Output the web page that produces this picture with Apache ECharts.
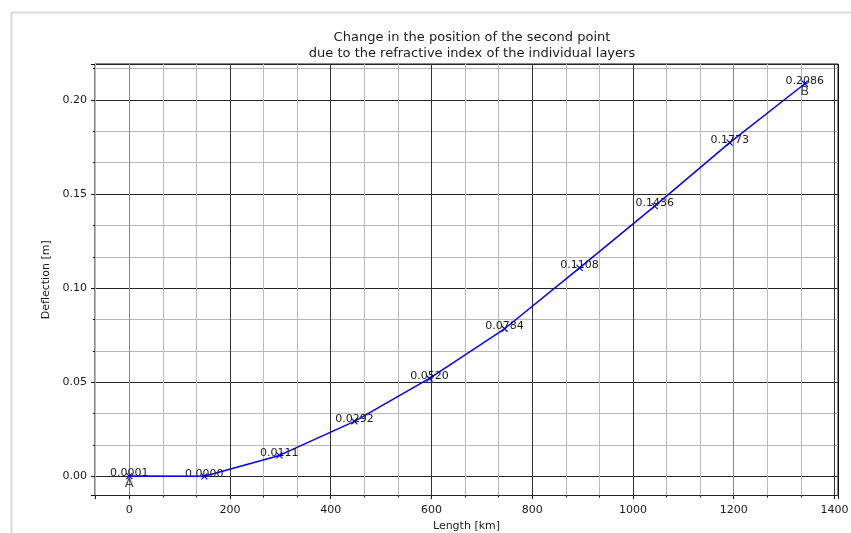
<!DOCTYPE html>
<html>
<head>
<meta charset="utf-8">
<script src="https://cdn.jsdelivr.net/npm/echarts@6/dist/echarts.min.js"></script>
<style>
html,body{margin:0;padding:0;background:#fff;}
#chart{width:851px;height:533px;}
</style>
</head>
<body>
<div id="chart"></div>
<script>
// ---- data ----
const titleLines = ['Change in the position of the second point', 'due to the refractive index of the individual layers'];
const xName = 'Length [km]';
const yName = 'Deflection [m]';
const lengthKm = [0, 149, 298, 447, 596, 745, 894, 1043, 1192, 1341];
const deflection = [0.0001, 0.0000, 0.0111, 0.0292, 0.0520, 0.0784, 0.1108, 0.1436, 0.1773, 0.2086];
const endNames = ['A', 'B'];
const xRange = [-68, 1407];
const yRange = [-0.0102, 0.2191];
const xMajorStep = 200;
const yMajorStep = 0.05;

const FONT = 'DejaVu Sans';
const TXT = '#1a1a1a';

const mainData = lengthKm.map((x, i) => [x, deflection[i]]);
const last = lengthKm.length - 1;
const endData = [
  {name: endNames[0], value: [lengthKm[0], deflection[0]]},
  {name: endNames[1], value: [lengthKm[last], deflection[last]]}
];

const chart = echarts.init(document.getElementById('chart'), null, {renderer: 'canvas'});
chart.setOption({
  animation: false,
  backgroundColor: '#fff',
  graphic: [{
    type: 'rect', left: 9, top: 10, silent: true, z: -10,
    shape: {width: 900, height: 600},
    style: {fill: 'none', stroke: '#d9d9d9', lineWidth: 2}
  }],
  title: {
    text: titleLines.join('\n'),
    left: 467, top: 25, textAlign: 'center',
    textStyle: {fontFamily: FONT, fontSize: 13, fontWeight: 'normal', color: TXT, lineHeight: 16}
  },
  grid: {
    left: 95, top: 64, right: 13, bottom: 37.5,
    containLabel: false, outerBoundsMode: 'none',
    show: true, borderColor: '#111', borderWidth: 1, backgroundColor: 'transparent'
  },
  xAxis: {
    type: 'value',
    min: xRange[0], max: xRange[1],
    minInterval: xMajorStep, maxInterval: xMajorStep,
    name: xName, nameLocation: 'middle', nameGap: 22,
    nameTextStyle: {fontFamily: FONT, fontSize: 11, color: TXT},
    axisLine: {show: false, onZero: false},
    axisTick: {show: true, length: 3.5, inside: false, lineStyle: {color: '#111'}},
    minorTick: {show: true, splitNumber: 3, length: 2, lineStyle: {color: '#111'}},
    axisLabel: {
      fontFamily: FONT, fontSize: 11, color: TXT, margin: 9,
      showMinLabel: false, showMaxLabel: false,
      formatter: v => (Math.abs(v / xMajorStep - Math.round(v / xMajorStep)) < 1e-6 ? String(Math.round(v)) : '')
    },
    splitLine: {show: true, lineStyle: {color: ['#111', '#888', '#333', '#333', '#333', '#333', '#333', '#888', '#333', '#111'], width: 1}},
    minorSplitLine: {show: true, lineStyle: {color: '#b8b8b8', width: 1}}
  },
  yAxis: {
    type: 'value',
    min: yRange[0], max: yRange[1],
    minInterval: yMajorStep, maxInterval: yMajorStep,
    name: yName, nameLocation: 'middle', nameGap: 37,
    nameTextStyle: {fontFamily: FONT, fontSize: 11, color: TXT},
    axisLine: {show: false, onZero: false},
    axisTick: {show: true, length: 4, lineStyle: {color: '#111'}},
    minorTick: {show: true, splitNumber: 3, length: 2, lineStyle: {color: '#111'}},
    axisLabel: {
      fontFamily: FONT, fontSize: 11, color: TXT, margin: 8,
      showMinLabel: false, showMaxLabel: false,
      formatter: v => (Math.abs(v / yMajorStep - Math.round(v / yMajorStep)) < 1e-6 ? v.toFixed(2) : '')
    },
    splitLine: {show: true, lineStyle: {color: '#262626', width: 1}},
    minorSplitLine: {show: true, lineStyle: {color: '#b8b8b8', width: 1}}
  },
  series: [
    {
      type: 'line',
      data: mainData,
      symbol: 'path://M0,0L10,10M10,0L0,10',
      symbolSize: 6,
      showAllSymbol: true,
      itemStyle: {color: '#0000ff', borderColor: '#0000ff', borderWidth: 1.2},
      lineStyle: {color: '#0000ff', width: 1.5},
      label: {
        show: true, position: 'top', distance: -6.5,
        fontFamily: FONT, fontSize: 11, color: TXT,
        formatter: p => p.value[1].toFixed(4)
      },
      z: 5
    },
    {
      type: 'scatter',
      data: endData,
      symbolSize: 2,
      itemStyle: {color: 'rgba(0,0,0,0)'},
      label: {
        show: true, position: 'bottom', distance: 0,
        fontFamily: FONT, fontSize: 13, color: TXT,
        formatter: p => p.name
      },
      z: 6
    }
  ]
});
</script>
</body>
</html>
